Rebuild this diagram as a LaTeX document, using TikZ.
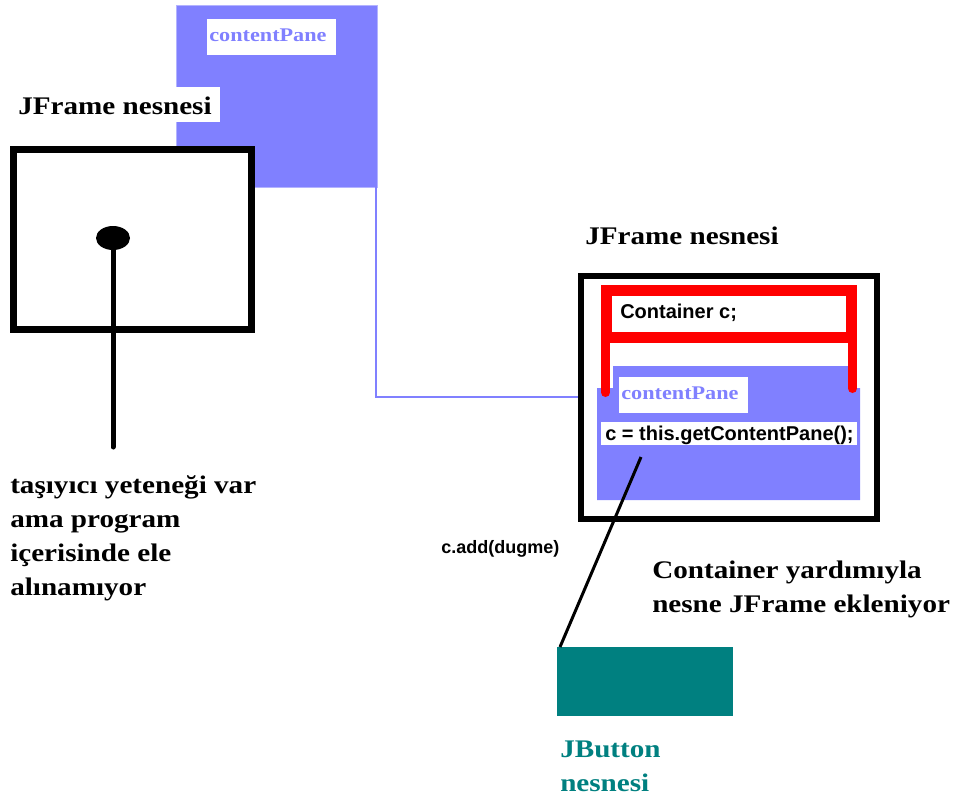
\documentclass[tikz,border=0pt]{standalone}
\usepackage{fontspec}
\setmainfont{Liberation Serif}
\setsansfont{Liberation Sans}
\newfontfamily\wideserif[FakeStretch=1.15]{Liberation Serif}
\usetikzlibrary{shapes.geometric}
\definecolor{paneblue}{HTML}{8080FF}
\definecolor{btnteal}{HTML}{008080}
\definecolor{framered}{HTML}{FF0000}
\def\u{0.75pt}
\begin{document}
\begin{tikzpicture}[x=0.75pt,y=-0.75pt,
  box/.style={rectangle, inner sep=0pt, outer sep=0pt, anchor=north west},
  serifbig/.style={font=\wideserif\bfseries\fontsize{19}{25.5}\selectfont, inner sep=0pt, align=left},
  paneLabel/.style={font=\wideserif\bfseries\fontsize{14.5}{16}\selectfont, text=paneblue, inner sep=0pt, anchor=base west},
  codetext/.style={font=\sffamily\bfseries\fontsize{15}{18}\selectfont, inner sep=0pt, anchor=base west},
  frame/.style={box, draw=black, fill=white},
  redbar/.style={draw=framered, line width=9*\u},
  bluelink/.style={draw=paneblue, line width=1.5*\u},
]
\useasboundingbox (0,0) rectangle (954,801);
\fill[white] (0,0) rectangle (954,801);

% ---------- left: JFrame with unused content pane ----------
\node[box, fill=paneblue, draw=paneblue!60!white, line width=1*\u,
      minimum width=201*\u, minimum height=182*\u] (paneL) at (176,5) {};
\node[box, fill=white, minimum width=129*\u, minimum height=36*\u] (cpLbox) at (207,19) {};
\node[paneLabel] (cpL) at (209,41) {contentPane};

\node[box, fill=white, minimum width=213*\u, minimum height=35*\u] (jfLbox) at (7,87) {};
\node[serifbig, anchor=base west] (jfL) at (18,114) {JFrame nesnesi};

\node[frame, line width=7*\u, minimum width=238*\u, minimum height=180*\u] (frameL) at (13.5,149.5) {};

\node[ellipse, fill=black, inner sep=0pt, minimum width=34*\u, minimum height=24*\u] (dot) at (113,238) {};
\coordinate (stickEnd) at (113,447);
\draw[line width=5*\u, line cap=round] (dot.center) -- (stickEnd);

\node[serifbig, anchor=north west] (leftNote) at (10,475)
  {taşıyıcı yeteneği var\\ama program\\içerisinde ele\\alınamıyor};

% ---------- link from the pane ----------
\coordinate (entry) at (594,397);
\draw[bluelink] ([xshift=-1*\u]paneL.south east) |- (entry);

% ---------- right: JFrame using content pane ----------
\node[serifbig, anchor=base west] (jfR) at (585,244) {JFrame nesnesi};
\node[frame, line width=6*\u, minimum width=296*\u, minimum height=243*\u] (frameR) at (581,276) {};

\fill[paneblue] (613,366) -- (854,366) -- (854,388) -- (860,388) -- (860,500)
   -- (597,500) -- (597,388) -- (613,388) -- cycle;
\node[box, minimum width=263*\u, minimum height=112*\u] (paneR) at (597,388) {};

\node[box, draw=framered, line width=11*\u, fill=white,
      minimum width=245*\u, minimum height=47*\u] (contBox) at (606.5,290.5) {};
\node[codetext] (contText) at (620,318) {Container c;};
\draw[redbar, line cap=round] ([xshift=-1*\u]contBox.south west) -- ++(0,55);
\draw[redbar, line cap=round] ([xshift=1*\u]contBox.south east) -- ++(0,51);

\node[box, fill=white, minimum width=129*\u, minimum height=36*\u] (cpRbox) at (619,377) {};
\node[paneLabel] (cpR) at (621,399) {contentPane};

\node[box, fill=white, minimum width=256*\u, minimum height=23*\u] (getBox) at (601,422) {};
\node[codetext] (getText) at (605,440) {c = this.getContentPane();};

% ---------- button ----------
\node[box, fill=btnteal, minimum width=176*\u, minimum height=69*\u] (button) at (557,647) {};
\coordinate (addStart) at (641,457);
\draw[line width=3*\u] (addStart) -- ([xshift=3*\u]button.north west);

\node[font=\sffamily\bfseries\fontsize{13.5}{16}\selectfont, inner sep=0pt, anchor=base west] (addText) at (441,553) {c.add(dugme)};

\node[serifbig, anchor=north west] (note) at (652,561)
  {Container yardımıyla\\nesne JFrame ekleniyor};

\node[serifbig, text=btnteal, anchor=north west] (btnText) at (560,741)
  {JButton\\nesnesi};
\end{tikzpicture}
\end{document}
